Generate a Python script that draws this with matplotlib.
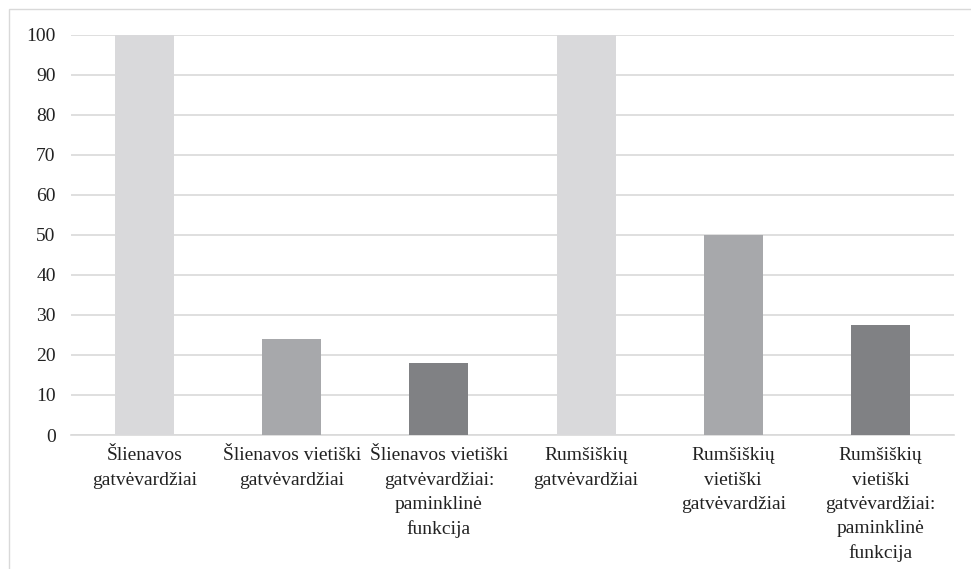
import matplotlib
matplotlib.use("Agg")
import matplotlib.pyplot as plt
from matplotlib.patches import Rectangle

plt.rcParams['font.family'] = ['Liberation Serif', 'DejaVu Serif']

categories = [
    "Šlienavos\ngatvėvardžiai",
    "Šlienavos vietiški\ngatvėvardžiai",
    "Šlienavos vietiški\ngatvėvardžiai:\npaminklinė\nfunkcija",
    "Rumšiškių\ngatvėvardžiai",
    "Rumšiškių\nvietiški\ngatvėvardžiai",
    "Rumšiškių\nvietiški\ngatvėvardžiai:\npaminklinė\nfunkcija",
]
values = [100, 24, 17.9, 100, 50, 27.4]
colors = ['#d9d9db', '#a7a8ab', '#808184', '#d9d9db', '#a7a8ab', '#808184']
yticks = [0, 10, 20, 30, 40, 50, 60, 70, 80, 90, 100]

fig = plt.figure(figsize=(9.71, 5.69), dpi=100)
ax = fig.add_axes([71/971, 1 - 435/569, (954 - 71)/971, (435 - 34.5)/569])

x = range(len(categories))
ax.bar(x, values, width=0.4, color=colors, zorder=3)

ax.set_xlim(-0.5, len(categories) - 0.5)
ax.set_ylim(0, 100)
ax.set_yticks(yticks)
ax.yaxis.grid(True, color='#d9d9d9', linewidth=1.2, zorder=0)
ax.set_xticks(list(x))
ax.set_xticklabels(categories, linespacing=1.55)
ax.tick_params(axis='both', length=0, labelsize=14, colors='#222222')
ax.tick_params(axis='x', pad=9)
ax.tick_params(axis='y', pad=11)
for s in ['top', 'right', 'left']:
    ax.spines[s].set_visible(False)
ax.spines['bottom'].set_color('#d9d9d9')
ax.spines['bottom'].set_linewidth(1.2)

# light frame around the chart area
frame = Rectangle((9/971, -0.2), 1.2, 1 - 9/569 + 0.2, transform=fig.transFigure,
                  fill=False, edgecolor='#d9d9d9', linewidth=1, clip_on=False)
fig.patches.append(frame)

fig.savefig("out.png", dpi=100)
